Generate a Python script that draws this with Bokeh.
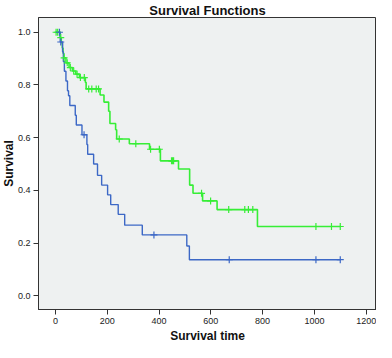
from bokeh.plotting import figure
from bokeh.models import Range1d, FixedTicker, PrintfTickFormatter, Title
from bokeh.embed import file_html
from bokeh.resources import INLINE

# Group A (blue) Kaplan-Meier steps
blue_t = [0, 18, 27, 30, 34, 40, 46, 50, 55, 76, 80, 102, 121, 124, 147, 162, 178, 201, 213, 242, 267, 335, 507, 517, 1100]
blue_s = [1.0, 0.963, 0.926, 0.889, 0.852, 0.815, 0.778, 0.759, 0.722, 0.685, 0.648, 0.611, 0.574, 0.537, 0.500, 0.457, 0.420, 0.383, 0.346, 0.309, 0.268, 0.231, 0.189, 0.137, 0.137]
blue_cens_t = [15, 20, 110, 380, 671, 1006, 1100]
blue_cens_s = [1.0, 0.963, 0.611, 0.231, 0.137, 0.137, 0.137]

# Group B (green) Kaplan-Meier steps
green_t = [0, 18, 22, 26, 29, 32, 40, 52, 65, 78, 92, 115, 118, 172, 187, 205, 210, 232, 236, 285, 363, 405, 475, 518, 531, 568, 624, 780, 1100]
green_s = [1.0, 0.98, 0.96, 0.94, 0.92, 0.903, 0.884, 0.866, 0.853, 0.841, 0.828, 0.81, 0.785, 0.762, 0.735, 0.70, 0.654, 0.63, 0.595, 0.577, 0.556, 0.512, 0.481, 0.42, 0.389, 0.36, 0.327, 0.263, 0.263]
green_cens_t = [2, 8, 20, 33, 45, 57, 70, 83, 96, 111, 128, 140, 157, 166, 246, 310, 367, 401, 448, 452, 456, 564, 599, 669, 731, 745, 762, 1006, 1066, 1100]
green_cens_s = [1.0, 1.0, 0.98, 0.903, 0.884, 0.866, 0.853, 0.841, 0.828, 0.828, 0.785, 0.785, 0.785, 0.785, 0.595, 0.577, 0.556, 0.556, 0.512, 0.512, 0.512, 0.389, 0.36, 0.327, 0.327, 0.327, 0.327, 0.263, 0.263, 0.263]

x_ticks = [0, 200, 400, 600, 800, 1000, 1200]
y_ticks = [0.0, 0.2, 0.4, 0.6, 0.8, 1.0]
title_text = "Survival Functions"
x_label = "Survival time"
y_label = "Survival"

BLUE = "#3C68C6"
GREEN = "#36EE36"
FONT = "Liberation Sans"
X0, X1 = -66, 1240
Y0, Y1 = -0.052, 1.056

p = figure(width=376, height=342, x_range=Range1d(X0, X1), y_range=Range1d(Y0, Y1),
           output_backend="svg", toolbar_location=None, title=title_text,
           min_border_left=0, min_border_right=0, min_border_top=0, min_border_bottom=0)

p.title.align = "center"
p.title.text_font = FONT
p.title.text_font_size = "13px"
p.title.text_font_style = "bold"
p.title.text_color = "#111111"
p.title.standoff = 0

p.background_fill_color = "#EEF1F1"
p.border_fill_color = "white"
p.outline_line_color = "#333333"
p.outline_line_width = 1
p.xgrid.visible = False
p.ygrid.visible = False

for ax in (p.xaxis[0], p.yaxis[0]):
    ax.axis_line_color = "#333333"
    ax.major_tick_line_color = "#333333"
    ax.major_tick_in = 0
    ax.major_tick_out = 5
    ax.minor_tick_line_color = None
    ax.major_label_text_font = FONT
    ax.major_label_text_font_size = "9px"
    ax.major_label_text_color = "#222222"
    ax.major_label_standoff = 3

p.xaxis[0].ticker = FixedTicker(ticks=x_ticks)
p.yaxis[0].ticker = FixedTicker(ticks=y_ticks)
p.yaxis[0].formatter = PrintfTickFormatter(format="%.1f")

# axis titles as outer title panels
xt = Title(text=x_label, align="center", text_font=FONT, text_font_size="12px",
           text_font_style="bold", text_color="#111111", standoff=0, offset=0)
yt = Title(text=y_label, align="center", text_font=FONT, text_font_size="12px",
           text_font_style="bold", text_color="#111111", standoff=-2, offset=0)
p.add_layout(xt, "below")
p.add_layout(yt, "left")

p.step(green_t, green_s, mode="after", line_color=GREEN, line_width=1.6)
p.step(blue_t, blue_s, mode="after", line_color=BLUE, line_width=1.4)
p.scatter(green_cens_t, green_cens_s, marker="cross", size=7, line_color=GREEN, line_width=1.2)
p.scatter(blue_cens_t, blue_cens_s, marker="cross", size=7, line_color=BLUE, line_width=1.2)

open("out.html", "w").write(file_html(p, INLINE))
